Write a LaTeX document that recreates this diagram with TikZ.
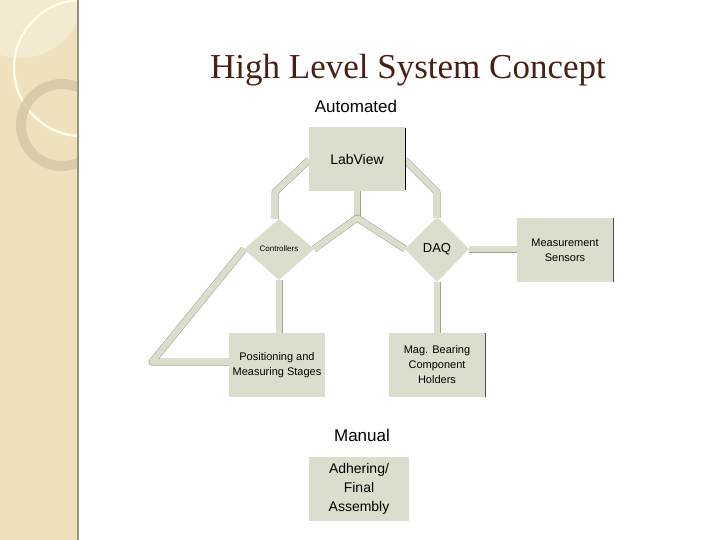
\documentclass[tikz,border=0pt]{standalone}
\usepackage{fontspec}
\setmainfont{Liberation Serif}
\newfontfamily\sansf{Liberation Sans}
\begin{document}
\begin{tikzpicture}[x=1pt,y=-1pt,
  box/.style={fill=boxc,draw=none,minimum width=96pt,minimum height=64pt,inner sep=0pt,align=center,font=\sansf\fontsize{11}{13}\selectfont},
  conn/.style={draw=lineb,line width=0.5pt,double=connc,double distance=6pt,line join=round}]
\definecolor{boxc}{HTML}{DCDDCC}
\definecolor{connc}{HTML}{DCDDCC}
\definecolor{lineb}{HTML}{A0A090}
\definecolor{strip}{HTML}{EFE1BD}
\definecolor{titc}{HTML}{4A2015}
\useasboundingbox (0,0) rectangle (720,540);
\fill[white] (0,0) rectangle (720,540);
% left strip
\begin{scope}
\clip (0,0) rectangle (78,540);
\fill[strip] (0,0) rectangle (78,540);
\fill[white,opacity=0.3] (20,-5) circle (63);
\draw[white!90!yellow,line width=2.5pt] (82,68) circle (68);
\draw[black!12!strip,line width=10pt,opacity=0.8] (62,125) circle (41);
\end{scope}
\draw[black!35!strip,line width=1.5pt] (78,0) -- (78,540);
% title
\node[text=titc,font=\fontsize{35}{40}\selectfont] (title) at (408,70) {High Level System Concept};
\node[font=\sansf\fontsize{17}{20}\selectfont] (auto) at (356,106) {Automated};
\node[font=\sansf\fontsize{17}{20}\selectfont] (man) at (362,435) {Manual};
% connectors
\coordinate (j) at (357,218);
\draw[conn] (309,160) -- (275,192) -- (275,219);
\draw[conn] (405,160) -- (437,192) -- (437,218);
\draw[conn] (357,190) -- (j);
\draw[conn] (314,249) -- (j) -- (405,249);
\draw[conn] (469,249) -- (517,249);
\draw[conn] (279,280) -- (279,333);
\draw[conn] (437,282) -- (437,333);
\draw[conn] (244,249) -- (152,362) -- (229,362);
% nodes
\node[box,font=\sansf\fontsize{14}{16}\selectfont] (lab) at (357,159) {LabView};
\draw[black,line width=0.8pt] (405,128) -- (405,190);
\fill[boxc] (279,219) -- (314,249) -- (279,280) -- (244,249) -- cycle;
\node[font=\sansf\fontsize{8}{9}\selectfont] (ctrl) at (279,249) {Controllers};
\fill[boxc] (437,217) -- (469,249) -- (437,282) -- (405,249) -- cycle;
\node[font=\sansf\fontsize{13}{15}\selectfont] (daq) at (437,249) {DAQ};
\node[box,font=\sansf\fontsize{11}{15}\selectfont] (meas) at (565,250) {Measurement\\Sensors};
\draw[black!70,line width=0.6pt] (613,218) -- (613,282);
\node[box,font=\sansf\fontsize{11}{15}\selectfont] (pos) at (277,365) {Positioning and\\Measuring Stages};
\node[box,font=\sansf\fontsize{11}{15}\selectfont] (mag) at (437,365) {Mag. Bearing\\Component\\Holders};
\draw[black!70,line width=0.6pt] (485,333) -- (485,397);
\node[box,minimum width=100pt,font=\sansf\fontsize{14}{19}\selectfont] (adh) at (359,489) {Adhering/\\Final\\Assembly};
\end{tikzpicture}
\end{document}
